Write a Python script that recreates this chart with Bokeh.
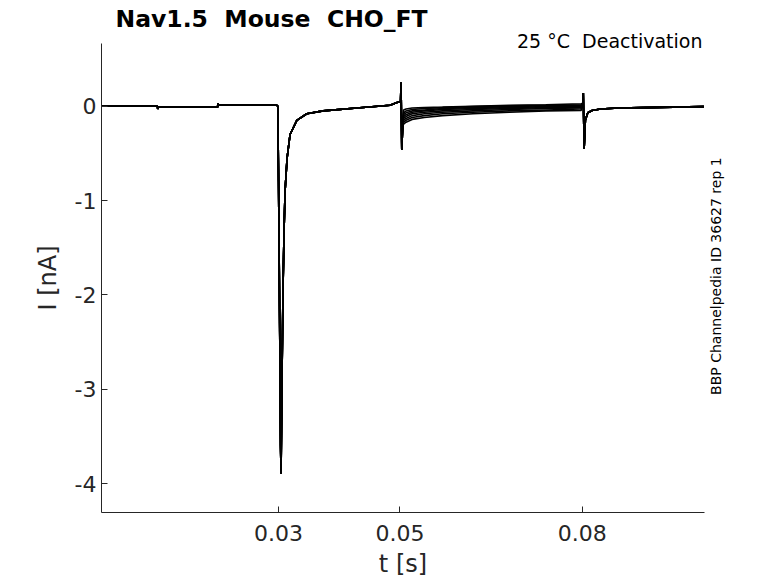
from bokeh.plotting import figure
from bokeh.models import Range1d, FixedTicker, Label, ColumnDataSource, Title
from bokeh.embed import file_html
from bokeh.resources import INLINE

title_text = "Nav1.5\u00a0 Mouse\u00a0 CHO_FT"
condition_text = "25 °C\u00a0 Deactivation"
side_text = "BBP Channelpedia ID 36627 rep 1"
x_label = "t [s]"
y_label = "I [nA]"
x_ticks = [0.03, 0.05, 0.08]
y_ticks = [-4, -3, -2, -1, 0]

# common part of all sweeps (holding, activation peak, step at 0.05 s)
pre_t = [0.0009, 0.0060, 0.0101, 0.01015, 0.0102, 0.0150, 0.0200, 0.02005, 0.0201, 0.0250,
         0.0297, 0.0299, 0.03003, 0.0302, 0.03036, 0.03044, 0.03061, 0.03077, 0.03094,
         0.03110, 0.03143, 0.03192, 0.03303, 0.03467, 0.03735, 0.04290, 0.04837, 0.04952,
         0.05010, 0.05018, 0.05030, 0.05045]
pre_i = [0.0, 0.0, 0.0, -0.03, -0.01, -0.01, -0.01, 0.03, 0.01, 0.01,
         0.01, 0.0, -0.8, -2.2, -3.6, -3.89, -2.8, -1.9, -1.3,
         -0.9, -0.55, -0.30, -0.15, -0.08, -0.05, -0.02, 0.01, 0.04,
         0.05, 0.25, -0.46, -0.22]

# deactivation tails (one per sweep)
tail_t = [0.0506, 0.0510, 0.0520, 0.0540, 0.0570, 0.0620, 0.0680, 0.0740, 0.0798]
tail_1 = [-0.04, -0.03, -0.02, -0.015, -0.01, 0.0, 0.01, 0.015, 0.025]
tail_2 = [-0.07, -0.05, -0.035, -0.025, -0.015, -0.005, 0.005, 0.01, 0.015]
tail_3 = [-0.09, -0.07, -0.05, -0.04, -0.025, -0.015, -0.005, 0.005, 0.01]
tail_4 = [-0.11, -0.09, -0.065, -0.05, -0.035, -0.025, -0.015, -0.005, 0.0]
tail_5 = [-0.13, -0.11, -0.08, -0.065, -0.05, -0.035, -0.025, -0.015, -0.01]
tail_6 = [-0.15, -0.13, -0.10, -0.08, -0.065, -0.05, -0.035, -0.025, -0.02]
tail_7 = [-0.17, -0.15, -0.12, -0.10, -0.08, -0.065, -0.05, -0.04, -0.03]
tail_8 = [-0.19, -0.17, -0.14, -0.12, -0.10, -0.08, -0.065, -0.05, -0.045]
tails = [tail_1, tail_2, tail_3, tail_4, tail_5, tail_6, tail_7, tail_8]

# common return to holding after 0.08 s
post_t = [0.08010, 0.08016, 0.0803, 0.0805, 0.0809, 0.0816, 0.0830, 0.0860, 0.0900, 0.0950, 0.1000]
post_i = [0.03, 0.14, -0.45, -0.15, -0.07, -0.045, -0.03, -0.02, -0.015, -0.01, -0.005]

xs = [pre_t + tail_t + post_t for _ in tails]
ys = [pre_i + tl + post_i for tl in tails]
src = ColumnDataSource(data=dict(xs=xs, ys=ys))

FONT = "DejaVu Sans"
AX = "#262626"

p = figure(width=778, height=583, output_backend="svg", toolbar_location=None,
           x_range=Range1d(0.0009, 0.1001), y_range=Range1d(-4.304, 0.664),
           min_border_left=101, min_border_right=74, min_border_top=43, min_border_bottom=71)
p.background_fill_color = "white"
p.border_fill_color = "white"
p.outline_line_color = None
p.grid.visible = False

p.title.text = title_text
p.title.text_font = FONT
p.title.text_font_size = "23.5px"
p.title.text_font_style = "bold"
p.title.text_color = "black"
p.title.align = "left"
p.title.offset = 14
p.title.standoff = 5.4

# condition text sits across the top edge of the frame (zero-height panel)
p.add_layout(Title(text=condition_text, align="right", offset=2, standoff=-16,
                   text_font=FONT, text_font_size="19px", text_font_style="normal",
                   text_color="black"), "above")

p.multi_line(xs="xs", ys="ys", source=src, line_color="black", line_width=1.6)

for ax in (p.xaxis[0], p.yaxis[0]):
    ax.axis_line_color = AX
    ax.major_tick_line_color = AX
    ax.minor_tick_line_color = None
    ax.major_tick_in = 6
    ax.major_tick_out = 0
    ax.major_label_text_font = FONT
    ax.major_label_text_font_size = "22px"
    ax.major_label_text_color = AX
    ax.axis_label_text_font = FONT
    ax.axis_label_text_font_size = "24px"
    ax.axis_label_text_font_style = "normal"
    ax.axis_label_text_color = AX

p.xaxis.ticker = FixedTicker(ticks=x_ticks)
p.yaxis.ticker = FixedTicker(ticks=y_ticks)
p.yaxis.major_label_overrides = {t: str(t) for t in y_ticks}
p.xaxis.axis_label = x_label
p.yaxis.axis_label = y_label
p.xaxis.major_label_standoff = 12
p.xaxis.axis_label_standoff = 6
p.yaxis.major_label_standoff = 5
p.yaxis.axis_label_standoff = 10

# vertical side note, placed in the right panel so it is not clipped to the frame
p.add_layout(Label(x=0.1020, y=-1.80, text=side_text, angle=90, angle_units="deg",
                   text_align="center", text_baseline="middle", text_font=FONT,
                   text_font_size="14px", text_color="black"), "right")

open("out.html", "w").write(file_html(p, INLINE))
